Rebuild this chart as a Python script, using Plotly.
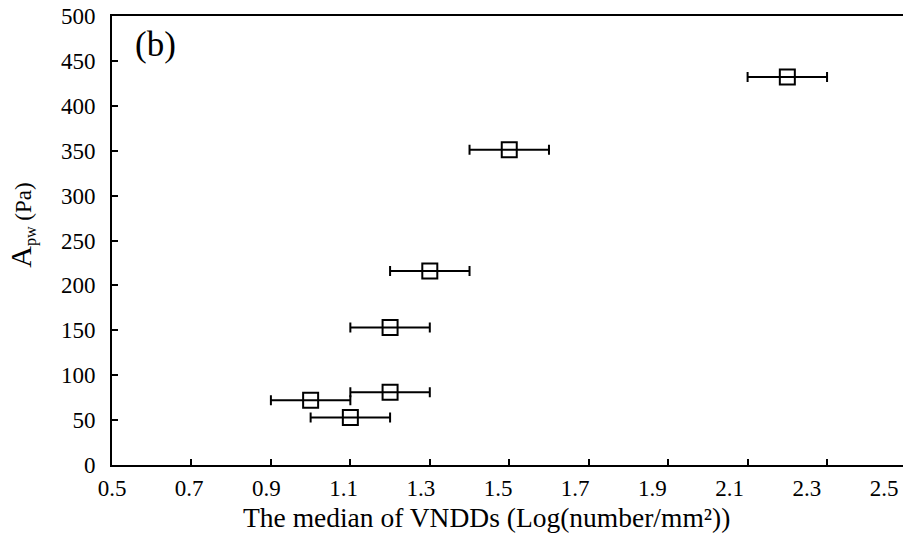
import plotly.graph_objects as go

# Data
vndd_median = [1.0, 1.1, 1.2, 1.2, 1.3, 1.5, 2.2]
apw = [72, 53, 81, 153, 216, 351, 432]
vndd_err = [0.1, 0.1, 0.1, 0.1, 0.1, 0.1, 0.1]
x_tick_vals = [0.5, 0.7, 0.9, 1.1, 1.3, 1.5, 1.7, 1.9, 2.1, 2.3, 2.5]
x_tick_text = ["0.5", "0.7", "0.9", "1.1", "1.3", "1.5", "1.7", "1.9", "2.1", "2.3", "2.5"]
y_tick_vals = [0, 50, 100, 150, 200, 250, 300, 350, 400, 450, 500]

FONT = "Liberation Serif"

fig = go.Figure()
fig.add_trace(go.Scatter(
    x=vndd_median, y=apw, mode="markers",
    marker=dict(symbol="square-open", size=15, color="black", line=dict(width=2, color="black")),
    error_x=dict(type="data", array=vndd_err, visible=True, color="black", thickness=2, width=5),
    showlegend=False, hoverinfo="x+y",
))

fig.update_layout(
    width=903, height=535,
    margin=dict(l=112, r=0, t=16, b=70, autoexpand=False),
    paper_bgcolor="white", plot_bgcolor="white",
    font=dict(family=FONT, size=22, color="black"),
    xaxis=dict(
        range=[0.5, 0.5 + 2 * 791 / 794.5],
        tickvals=x_tick_vals, showticklabels=False,
        ticks="inside", ticklen=6, tickwidth=2, tickcolor="black",
        showline=True, linewidth=2, linecolor="black", mirror=True,
        showgrid=False, zeroline=False,
    ),
    xaxis2=dict(
        overlaying="x", side="bottom", anchor="y",
        range=[0.5, 0.5 + 2 * 791 / 772],
        tickvals=x_tick_vals, ticktext=x_tick_text,
        ticks="", showline=False, showgrid=False, zeroline=False,
        tickfont=dict(family=FONT, size=23, color="black"),
        ticklabelstandoff=7,
    ),
    yaxis=dict(
        range=[0, 500], tickvals=y_tick_vals,
        ticks="inside", ticklen=6, tickwidth=2, tickcolor="black",
        showline=True, linewidth=2, linecolor="black",
        showgrid=False, zeroline=False,
        tickfont=dict(family=FONT, size=23, color="black"),
        ticklabelstandoff=10,
    ),
    annotations=[
        dict(text="(b)", xref="paper", yref="paper", x=0.027, y=0.985,
             xanchor="left", yanchor="top", showarrow=False,
             font=dict(family=FONT, size=35, color="black")),
        dict(text="<span style='font-size:30px'>A</span><sub>pw</sub> (Pa)",
             xref="paper", yref="paper", x=-0.1138, y=0.535, textangle=-90,
             xanchor="center", yanchor="middle", showarrow=False,
             font=dict(family=FONT, size=23, color="black")),
        dict(text="The median of VNDDs (Log(number/mm²))",
             xref="paper", yref="paper", x=0.474, y=-0.118,
             xanchor="center", yanchor="middle", showarrow=False,
             font=dict(family=FONT, size=27.5, color="black")),
    ],
)
# invisible trace to activate the label axis
fig.add_trace(go.Scatter(x=[0.5], y=[0], xaxis="x2", yaxis="y", mode="markers",
                         marker=dict(opacity=0), showlegend=False, hoverinfo="skip"))

fig.write_html("out.html", config={"displayModeBar": False},
               post_script="document.body.style.margin='0px';document.body.style.overflow='hidden';")
